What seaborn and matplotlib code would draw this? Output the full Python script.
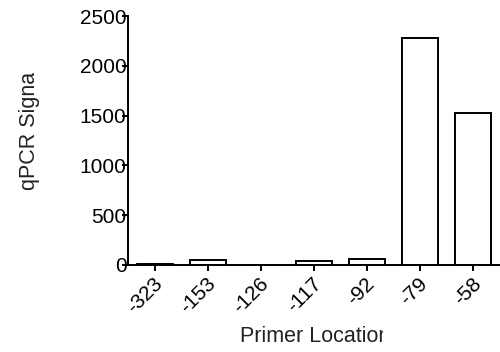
import matplotlib
matplotlib.use("Agg")
import matplotlib.pyplot as plt
import matplotlib.transforms as mtransforms
import seaborn as sns
import pandas as pd

locations = ["-323", "-153", "-126", "-117", "-92", "-79", "-58"]
signal = [5, 48, 0, 45, 60, 2280, 1530]
y_ticks = [0, 500, 1000, 1500, 2000, 2500]

df = pd.DataFrame({"loc": locations, "signal": signal})

sns.set_theme(style="ticks")
plt.rcParams["font.family"] = ["Liberation Sans", "DejaVu Sans"]

fig = plt.figure(figsize=(5.0, 3.52), dpi=100)
ax = fig.add_axes([0.256, 0.2472, 0.744, 0.7073])

sns.barplot(data=df, x="loc", y="signal", order=locations, ax=ax,
            color="white", edgecolor="black", linewidth=1.4, width=0.68,
            errorbar=None, saturation=1)

ax.set_xlim(-0.5, 6.5)
ax.set_ylim(0, 2500)
ax.set_yticks(y_ticks)
ax.set_yticklabels([str(v) for v in y_ticks], fontsize=15, color="black")
ax.set_xticks(range(len(locations)))
ax.set_xticklabels(locations, fontsize=15, color="black", rotation=45,
                   ha="right", rotation_mode="anchor")
sns.despine(ax=ax)
for s in ["left", "bottom"]:
    ax.spines[s].set_linewidth(1.4)
    ax.spines[s].set_color("black")
ax.tick_params(axis="y", length=4.5, width=1.4, pad=-3.5, color="black")
ax.tick_params(axis="x", length=4.5, width=1.4, pad=2, color="black")
ax.set_xlabel("")
ax.set_ylabel("")

# shift rotated x tick labels to match placement
offset = mtransforms.ScaledTranslation(-2 / 100, 0 / 100, fig.dpi_scale_trans)
for lab in ax.get_xticklabels():
    lab.set_transform(lab.get_transform() + offset)

# axis labels (clipped as in the reference)
yl = fig.text(30 / 500, 1 - 190 / 352, "qPCR Signal", rotation=90, fontsize=15.5,
              color="#222222", ha="center", va="bottom")
xl = fig.text(240 / 500, 1 - 342 / 352, "Primer Location", fontsize=15.5,
              color="#222222", ha="left", va="baseline")
for t in (yl, xl):
    t.set_clip_on(True)
    t.set_clip_box(mtransforms.TransformedBbox(
        mtransforms.Bbox.from_extents(0, 0, 383 / 500, 1 - 73 / 352), fig.transFigure))

fig.savefig("out.png", dpi=100)
